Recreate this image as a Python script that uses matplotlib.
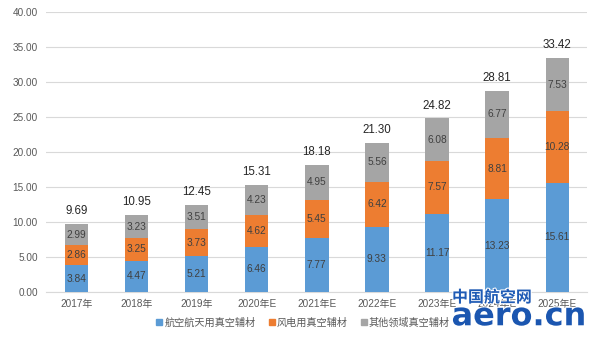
import numpy as np
import matplotlib
matplotlib.use('Agg')
import matplotlib.pyplot as plt
import matplotlib.patheffects as pe
from matplotlib.lines import Line2D

plt.rcParams['font.family'] = ['Liberation Sans', 'Noto Sans CJK SC', 'DejaVu Sans']

years = ['2017年', '2018年', '2019年', '2020年E', '2021年E',
         '2022年E', '2023年E', '2024年E', '2025年E']
aerospace = [3.84, 4.47, 5.21, 6.46, 7.77, 9.33, 11.17, 13.23, 15.61]
wind = [2.86, 3.25, 3.73, 4.62, 5.45, 6.42, 7.57, 8.81, 10.28]
other = [2.99, 3.23, 3.51, 4.23, 4.95, 5.56, 6.08, 6.77, 7.53]
totals = [9.69, 10.95, 12.45, 15.31, 18.18, 21.30, 24.82, 28.81, 33.42]
series_names = ['航空航天用真空辅材', '风电用真空辅材', '其他领域真空辅材']
colors = ['#5B9BD5', '#ED7D31', '#A5A5A5']

fig = plt.figure(figsize=(6.0, 3.37), dpi=100)
ax = fig.add_axes([0.077, 0.1335, 0.902, 0.83])

x = np.arange(len(years))
width = 0.39
bottom = np.zeros(len(years))
for vals, color in zip([aerospace, wind, other], colors):
    ax.bar(x, vals, width, bottom=bottom, color=color, zorder=3)
    for xi, b, v in zip(x, bottom, vals):
        ax.text(xi, b + v / 2, f'{v:.2f}', ha='center', va='center',
                fontsize=7.3, color='#404040', zorder=4)
    bottom = bottom + np.array(vals)

for xi, t, top in zip(x, totals, bottom):
    ax.annotate(f'{t:.2f}', (xi, top), xytext=(0, 5), textcoords='offset points',
                ha='center', va='bottom', fontsize=8.3, color='#262626')

ax.set_xlim(-0.5, len(years) - 0.5)
ax.set_ylim(0, 40)
ax.set_yticks(np.arange(0, 41, 5))
ax.set_yticklabels([f'{v:.2f}' for v in np.arange(0, 41, 5)])
ax.set_xticks(x)
ax.set_xticklabels(years)
ax.tick_params(axis='both', length=0, labelsize=7.2, labelcolor='#595959')
ax.tick_params(axis='y', pad=6)
ax.tick_params(axis='x', pad=5)
ax.grid(axis='y', color='#D9D9D9', linewidth=0.8, zorder=0)
for s in ['top', 'right', 'left']:
    ax.spines[s].set_visible(False)
ax.spines['bottom'].set_color('#D9D9D9')

handles = [Line2D([0], [0], marker='s', color='none', markerfacecolor=c,
                  markeredgecolor=c, markersize=4) for c in colors]
fig.legend(handles, series_names, loc='center', bbox_to_anchor=(0.505, 0.042),
           ncol=3, frameon=False, fontsize=7.3, labelcolor='#595959',
           handlelength=0.6, handletextpad=0.2, columnspacing=1.3)

# site watermark in the lower right corner
outline = [pe.withStroke(linewidth=1.5, foreground='white')]
fig.text(0.82, 0.118, '中国航空网', fontsize=11.5, fontweight='bold',
         family='Noto Sans CJK SC', color='#1F5BB5', ha='center', va='center',
         path_effects=outline, zorder=10)
fig.text(0.865, 0.06, 'aero.cn', fontsize=23, fontweight='bold',
         family='DejaVu Sans', color='#1B56B0', ha='center', va='center',
         path_effects=outline, zorder=10)

fig.savefig('out.png', dpi=100)
